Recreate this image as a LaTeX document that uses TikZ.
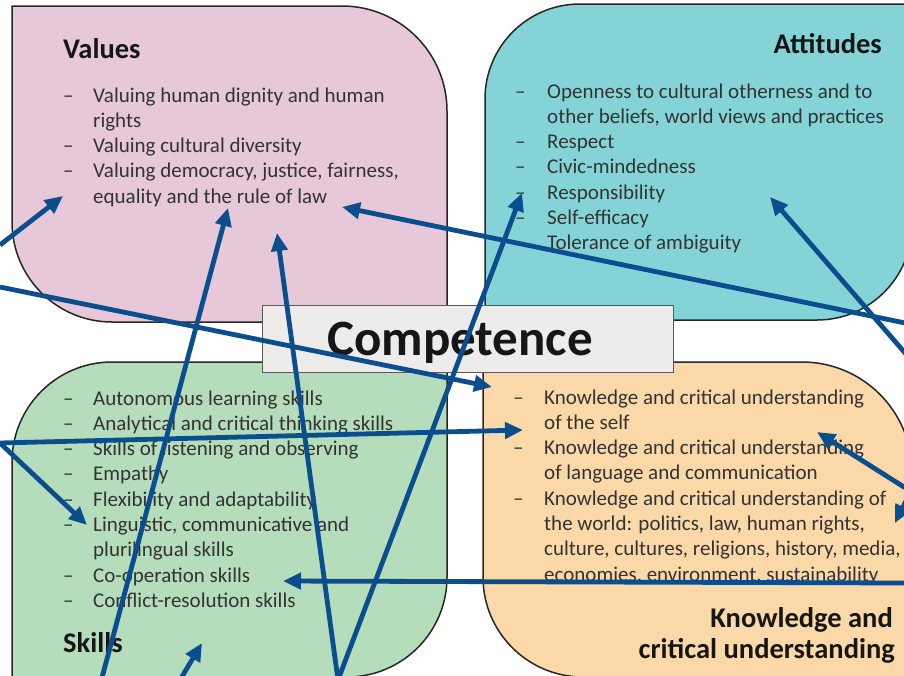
\documentclass[tikz,border=0pt]{standalone}
\usepackage{fontspec}
\setmainfont{Carlito}
\usetikzlibrary{arrows.meta}
\definecolor{valpink}{HTML}{E6C8D9}
\definecolor{atteal}{HTML}{84D4D7}
\definecolor{skgreen}{HTML}{B5DDBB}
\definecolor{knorange}{HTML}{FAD8A8}
\definecolor{compgray}{HTML}{EDECEB}
\definecolor{arrowblue}{HTML}{0B4E8E}
\definecolor{bodytext}{HTML}{333333}
\definecolor{headtext}{HTML}{161616}
\begin{document}
\begin{tikzpicture}[x=1pt,y=-1pt,
  box/.style={draw=black!85, line width=1.5pt},
  head/.style={font=\fontsize{28.5}{32}\selectfont\bfseries, text=headtext, inner sep=0pt},
  listtext/.style={font=\fontsize{21}{25.3}\selectfont, text=bodytext, inner sep=0pt, anchor=base west},
  arr/.style={draw=arrowblue, line width=4.8pt, -{Triangle[length=18pt,width=16pt]}}]
\useasboundingbox (0,0) rectangle (904,675);
\clip (0,0) rectangle (904,675);
% boxes
\path[box, fill=valpink] (12,6) -- (342,6) .. controls (400,6) and (447,53) .. (447,111) -- (447,322) -- (112,322) .. controls (56.8,322) and (12,277.2) .. (12,222) -- cycle;
\path[box, fill=atteal] (485,99) .. controls (485,46.5) and (527.5,4) .. (580,4) -- (912,4) -- (912,225) .. controls (912,277.5) and (869.5,320) .. (817,320) -- (485,320) -- cycle;
\path[box, fill=skgreen] (12,462) .. controls (12,406.8) and (56.8,362) .. (112,362) -- (447,362) -- (447,577) .. controls (447,632.2) and (402.2,677) .. (347,677) -- (12,677) -- cycle;
\path[box, fill=knorange] (483,362) -- (802,362) .. controls (862.7,362) and (912,411.3) .. (912,472) -- (912,677) -- (583,677) .. controls (527.8,677) and (483,632.2) .. (483,577) -- cycle;
% competence
\node[draw=black!65, line width=0.9pt, fill=compgray, minimum width=411pt, minimum height=67pt, inner sep=0pt] (comp) at (467.5,338.5) {};
\node[font=\fontsize{51}{56}\selectfont\bfseries, text=headtext, inner sep=0pt, anchor=base] (comptext) at (460,355) {Competence};
% headings
\node[head, anchor=base west] (valh) at (63,58) {Values};
\node[head, anchor=base east] (atth) at (882,53) {Attitudes};
\node[head, anchor=base west] (skh) at (63,652) {Skills};
\node[head, anchor=base east] (knh1) at (893,627) {Knowledge and};
\node[head, anchor=base east] (knh2) at (895,658) {critical understanding};
% lists
\node[listtext] (vallist) at (63,102) {\begin{tabular}[t]{@{}p{30pt}@{}l@{}}
–& Valuing human dignity and human\\
 & rights\\
–& Valuing cultural diversity\\
–& Valuing democracy, justice, fairness,\\
 & equality and the rule of law
\end{tabular}};
\node[listtext] (attlist) at (515,98) {\begin{tabular}[t]{@{}p{32pt}@{}l@{}}
–& Openness to cultural otherness and to\\
 & other beliefs, world views and practices\\
–& Respect\\
–& Civic-mindedness\\
–& Responsibility\\
–& Self-efficacy\\
–& Tolerance of ambiguity
\end{tabular}};
\node[listtext] (sklist) at (63,405) {\begin{tabular}[t]{@{}p{30pt}@{}l@{}}
–& Autonomous learning skills\\
–& Analytical and critical thinking skills\\
–& Skills of listening and observing\\
–& Empathy\\
–& Flexibility and adaptability\\
–& Linguistic, communicative and\\
 & plurilingual skills\\
–& Co-operation skills\\
–& Conflict-resolution skills
\end{tabular}};
\node[listtext] (knlist) at (513,404) {\begin{tabular}[t]{@{}p{31pt}@{}l@{}}
–& Knowledge and critical understanding\\
 & of the self\\
–& Knowledge and critical understanding\\
 & of language and communication\\
–& Knowledge and critical understanding of\\
 & the world: politics, law, human rights,\\
 & culture, cultures, religions, history, media,\\
 & economies, environment, sustainability
\end{tabular}};
% arrow end points
\coordinate (s1) at (0,245);
\coordinate (e1) at (63,196);
\coordinate (s2) at (0,287);
\coordinate (e2) at (492,387);
\coordinate (s3) at (100,685);
\coordinate (e3) at (228,208);
\coordinate (sb) at (338,680);
\coordinate (e4) at (277,233);
\coordinate (e5) at (522,193);
\coordinate (s6) at (910,324);
\coordinate (e6) at (342,207);
\coordinate (s7) at (912,361);
\coordinate (e7) at (770,197);
\coordinate (s8) at (915,494);
\coordinate (e8) at (817,432);
\coordinate (s9) at (912,489);
\coordinate (e9) at (895,523);
\coordinate (s10) at (910,583);
\coordinate (e10) at (283,581);
\coordinate (sl) at (0,443);
\coordinate (e11) at (523,430);
\coordinate (e12) at (87,525);
\coordinate (s13) at (180,680);
\coordinate (e13) at (202,643);
% arrows
\draw[arr] (s1) -- (e1);
\draw[arr] (s2) -- (e2);
\draw[arr] (s3) -- (e3);
\draw[arr] (sb) -- (e4);
\draw[arr] (sb) -- (e5);
\draw[arr] (s6) -- (e6);
\draw[arr] (s7) -- (e7);
\draw[arr] (s8) -- (e8);
\draw[arr] (s9) -- (e9);
\draw[arr] (s10) -- (e10);
\draw[arr] (sl) -- (e11);
\draw[arr] (sl) -- (e12);
\draw[arr] (s13) -- (e13);
\end{tikzpicture}
\end{document}
